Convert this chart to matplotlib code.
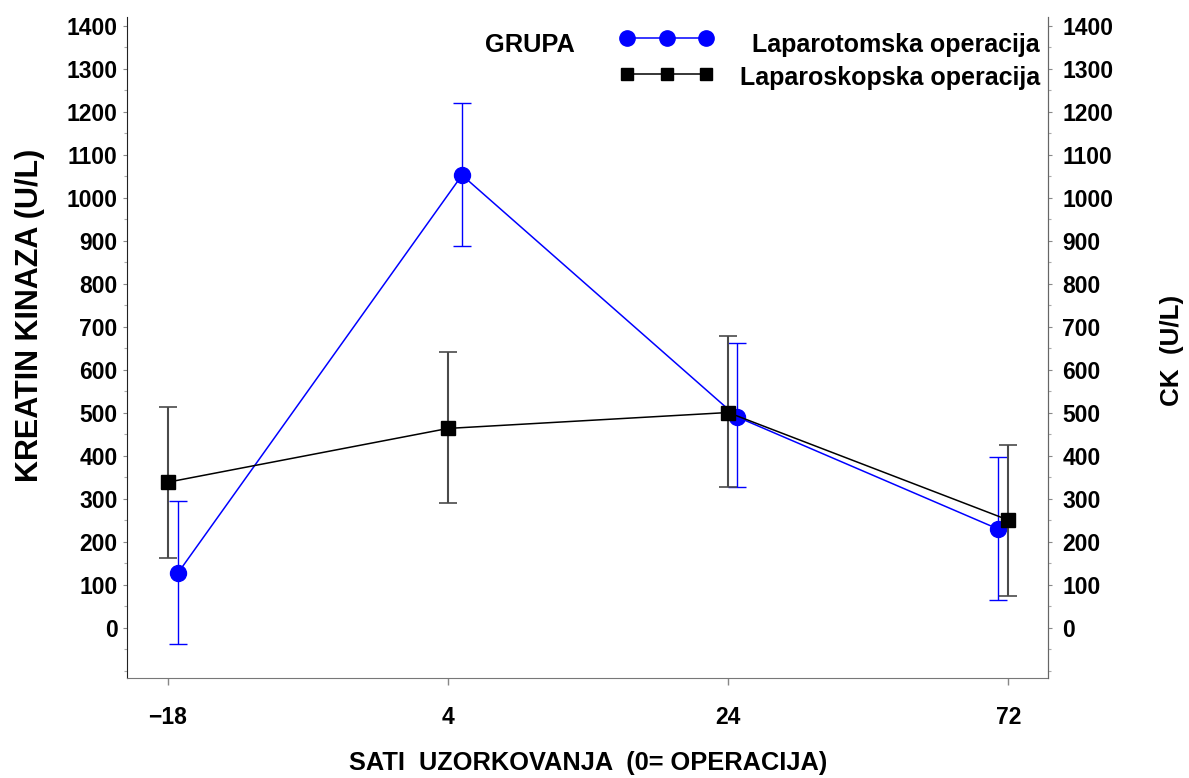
import matplotlib
matplotlib.use("Agg")
import matplotlib.pyplot as plt
from matplotlib.lines import Line2D
from matplotlib.ticker import MultipleLocator
import numpy as np

plt.rcParams['font.family'] = ['Liberation Sans', 'DejaVu Sans']
plt.rcParams['font.weight'] = 'bold'

# ---- data ----
hours = ['\u221218', '4', '24', '72']
otv_mean = [127, 1052, 490, 229]
otv_lower = [-38, 887, 327, 64]
otv_upper = [294, 1219, 661, 397]
sk_mean = [338, 463, 500, 250]
sk_lower = [162, 289, 327, 73]
sk_upper = [513, 640, 679, 424]
series_names = ['Laparotomska operacija', 'Laparoskopska operacija']
legend_title = 'GRUPA'
y_ticks = list(range(0, 1401, 100))

# ---- style ----
otv_jitter = [0.036, 0.05, 0.031, -0.036]
BLUE = '#0000ff'
W, H, DPI = 1189, 778, 100
TICK_FS = 16.5

fig = plt.figure(figsize=(W / DPI, H / DPI), dpi=DPI)
ax = fig.add_axes([127.3 / W, 1 - 678 / H, (1048.3 - 127.3) / W, (678 - 17) / H])

x = np.arange(len(hours))
xo = x + np.array(otv_jitter)

om = np.array(otv_mean); ol = np.array(otv_lower); ou = np.array(otv_upper)
sm = np.array(sk_mean); sl = np.array(sk_lower); su = np.array(sk_upper)

ax.errorbar(xo, om, yerr=[om - ol, ou - om], fmt='none', ecolor=BLUE,
            elinewidth=1.0, capsize=6.5, capthick=1.0, zorder=2)
ax.plot(xo, om, color=BLUE, lw=1.1, marker='o', ms=11.5, mfc=BLUE, mec=BLUE, zorder=3)

ax.errorbar(x, sm, yerr=[sm - sl, su - sm], fmt='none', ecolor='#4a4a4a',
            elinewidth=1.5, capsize=6.5, capthick=1.2, zorder=4)
ax.plot(x, sm, color='black', lw=1.1, marker='s', ms=9.5, mfc='black', mec='black', zorder=5)

ax.set_xlim(-0.145, 3.143)
ax.set_ylim(-117.4, 1419.8)
ax.set_xticks(x)
ax.set_xticklabels(hours)
ax.set_yticks(y_ticks)
ax.yaxis.set_minor_locator(MultipleLocator(50))

ax.spines['top'].set_visible(False)
ax.spines['left'].set_color('#222222')
ax.spines['bottom'].set_color('#777777')
ax.spines['right'].set_color('#666666')

ax.tick_params(axis='x', direction='out', length=5, width=1, color='#888888',
               labelsize=TICK_FS, pad=15)
ax.tick_params(axis='y', which='major', direction='out', length=3, width=0.8,
               color='#888888', labelsize=TICK_FS, pad=4)
ax.tick_params(axis='y', which='minor', direction='out', length=2.5, width=0.8,
               color='#aaaaaa')

ax2 = ax.twinx()
ax2.set_ylim(ax.get_ylim())
ax2.set_yticks(y_ticks)
ax2.yaxis.set_minor_locator(MultipleLocator(50))
for s in ['top', 'left', 'bottom']:
    ax2.spines[s].set_visible(False)
ax2.spines['right'].set_color('#666666')
ax2.tick_params(axis='y', which='major', direction='out', length=3, width=0.8,
                color='#888888', labelsize=TICK_FS, pad=7)
ax2.tick_params(axis='y', which='minor', direction='out', length=2.5, width=0.8,
                color='#aaaaaa')

for lab in ax.get_xticklabels() + ax.get_yticklabels() + ax2.get_yticklabels():
    lab.set_fontweight('bold')

ax.set_ylabel('KREATIN KINAZA (U/L)', fontsize=22, fontweight='bold')
ax.yaxis.label.set_va('center')
ax.yaxis.set_label_coords((30 - 127.3) / 921, (678 - 315) / 661)
ax2.set_ylabel('CK  (U/L)', fontsize=18.7, fontweight='bold', rotation=90)
ax2.yaxis.label.set_va('center')
ax2.yaxis.set_label_coords((1172 - 127.3) / 921, (678 - 350) / 661)
ax.set_xlabel('SATI  UZORKOVANJA  (0= OPERACIJA)', fontsize=18.3, fontweight='bold')
ax.xaxis.label.set_va('center')
ax.xaxis.set_label_coords(0.5, (678 - 763) / 661)

# ---- legend ----
h1 = Line2D([], [], color=BLUE, lw=1.1, marker='o', ms=11, mfc=BLUE, mec=BLUE)
h2 = Line2D([], [], color='black', lw=1.1, marker='s', ms=9, mfc='black', mec='black')
leg = ax2.legend(handles=[h1, h2], labels=['', ''], numpoints=3, handlelength=4.4,
                 frameon=False, borderpad=0, borderaxespad=0, handletextpad=0,
                 labelspacing=0.85, fontsize=15, loc='upper left',
                 bbox_to_anchor=(621 / W, 1 - 30 / H), bbox_transform=fig.transFigure)
fig.text(1040 / W, 1 - 45 / H, series_names[0], ha='right', va='center',
         fontsize=18, fontweight='bold')
fig.text(1040 / W, 1 - 78 / H, series_names[1], ha='right', va='center',
         fontsize=18, fontweight='bold')
fig.text(530 / W, 1 - 45 / H, legend_title, ha='center', va='center',
         fontsize=18.3, fontweight='bold')

fig.savefig('out.png', dpi=DPI)
